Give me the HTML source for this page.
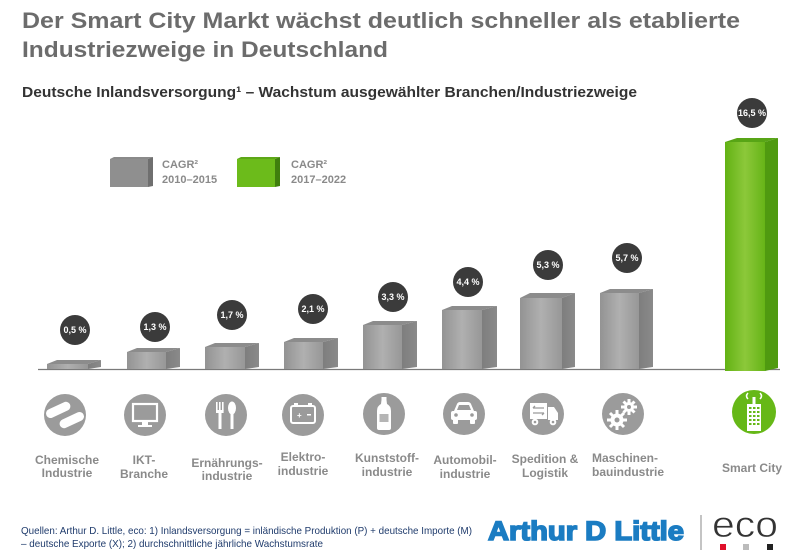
<!DOCTYPE html>
<html>
<head>
<meta charset="utf-8">
<style>
html,body{margin:0;padding:0;background:#fff;}
svg{display:block;}
text{font-family:"Liberation Sans",Arial,sans-serif;}
</style>
</head>
<body>
<svg width="800" height="554" viewBox="0 0 800 554" xmlns="http://www.w3.org/2000/svg">
<defs>
<linearGradient id="gf" x1="0" y1="0" x2="1" y2="0">
<stop offset="0" stop-color="#939393"/>
<stop offset="0.5" stop-color="#b0b0b0"/>
<stop offset="1" stop-color="#979797"/>
</linearGradient>
<linearGradient id="gs" x1="0" y1="0" x2="1" y2="0">
<stop offset="0" stop-color="#7e7e7e"/>
<stop offset="1" stop-color="#8a8a8a"/>
</linearGradient>
<linearGradient id="grf" x1="0" y1="0" x2="1" y2="0">
<stop offset="0" stop-color="#62b214"/>
<stop offset="0.5" stop-color="#8cc83a"/>
<stop offset="1" stop-color="#66b417"/>
</linearGradient>
</defs>

<!-- Title -->
<text x="22" y="28" font-size="22" font-weight="bold" fill="#6c6c6c" textLength="718" lengthAdjust="spacingAndGlyphs">Der Smart City Markt wächst deutlich schneller als etablierte</text>
<text x="22" y="57" font-size="22" font-weight="bold" fill="#6c6c6c" textLength="366" lengthAdjust="spacingAndGlyphs">Industriezweige in Deutschland</text>
<text x="22" y="97" font-size="15" font-weight="bold" fill="#333" textLength="615" lengthAdjust="spacingAndGlyphs">Deutsche Inlandsversorgung¹ – Wachstum ausgewählter Branchen/Industriezweige</text>

<!-- Legend -->
<polygon points="110,159 114,157 153,157 148,159" fill="#8a8a8a"/>
<rect x="110" y="159" width="38" height="28" fill="#8f8f8f"/>
<polygon points="148,159 153,157 153,186 148,187" fill="#6f6f6f"/>
<text x="162" y="168" font-size="11" font-weight="bold" fill="#8a8a8a">CAGR²</text>
<text x="162" y="183" font-size="11" font-weight="bold" fill="#8a8a8a">2010–2015</text>

<polygon points="237,159 241,157 280,157 275,159" fill="#5da717"/>
<rect x="237" y="159" width="38" height="28" fill="#6cbb1b"/>
<polygon points="275,159 280,157 280,186 275,187" fill="#3f7f0d"/>
<text x="291" y="168" font-size="11" font-weight="bold" fill="#8a8a8a">CAGR²</text>
<text x="291" y="183" font-size="11" font-weight="bold" fill="#8a8a8a">2017–2022</text>

<!-- Baseline -->
<line x1="38" y1="369.5" x2="780" y2="369.5" stroke="#7a7a7a" stroke-width="1.2"/>

<!-- Gray bars -->
<g>
<polygon points="47,364 57,360 101,360 88,364" fill="#8c8c8c"/>
<rect x="47" y="364" width="41" height="5" fill="url(#gf)"/>
<polygon points="88,364 101,360 101,367 88,369" fill="url(#gs)"/>

<polygon points="127,352 137,348 180,348 166,352" fill="#8c8c8c"/>
<rect x="127" y="352" width="39" height="17" fill="url(#gf)"/>
<polygon points="166,352 180,348 180,367 166,369" fill="url(#gs)"/>

<polygon points="205,347 215,343 259,343 245,347" fill="#8c8c8c"/>
<rect x="205" y="347" width="40" height="22" fill="url(#gf)"/>
<polygon points="245,347 259,343 259,367 245,369" fill="url(#gs)"/>

<polygon points="284,342 294,338 338,338 323,342" fill="#8c8c8c"/>
<rect x="284" y="342" width="39" height="27" fill="url(#gf)"/>
<polygon points="323,342 338,338 338,367 323,369" fill="url(#gs)"/>

<polygon points="363,325 373,321 417,321 402,325" fill="#8c8c8c"/>
<rect x="363" y="325" width="39" height="44" fill="url(#gf)"/>
<polygon points="402,325 417,321 417,367 402,369" fill="url(#gs)"/>

<polygon points="442,310 452,306 497,306 482,310" fill="#8c8c8c"/>
<rect x="442" y="310" width="40" height="59" fill="url(#gf)"/>
<polygon points="482,310 497,306 497,367 482,369" fill="url(#gs)"/>

<polygon points="520,298 530,293 575,293 562,298" fill="#8c8c8c"/>
<rect x="520" y="298" width="42" height="71" fill="url(#gf)"/>
<polygon points="562,298 575,293 575,367 562,369" fill="url(#gs)"/>

<polygon points="600,293 610,289 653,289 639,293" fill="#8c8c8c"/>
<rect x="600" y="293" width="39" height="76" fill="url(#gf)"/>
<polygon points="639,293 653,289 653,367 639,369" fill="url(#gs)"/>
</g>

<!-- Green bar -->
<polygon points="725,142 737,138 778,138 765,142" fill="#58a516"/>
<rect x="725" y="142" width="40" height="229" fill="url(#grf)"/>
<polygon points="765,142 778,138 778,368 765,371" fill="#4f9a10"/>

<!-- Value bubbles -->
<g font-size="9" font-weight="bold" fill="#fff" text-anchor="middle">
<circle cx="75" cy="330" r="15" fill="#3b3b3b"/><text x="75" y="333">0,5 %</text>
<circle cx="155" cy="327" r="15" fill="#3b3b3b"/><text x="155" y="330">1,3 %</text>
<circle cx="232" cy="315" r="15" fill="#3b3b3b"/><text x="232" y="318">1,7 %</text>
<circle cx="313" cy="309" r="15" fill="#3b3b3b"/><text x="313" y="312">2,1 %</text>
<circle cx="393" cy="297" r="15" fill="#3b3b3b"/><text x="393" y="300">3,3 %</text>
<circle cx="468" cy="282" r="15" fill="#3b3b3b"/><text x="468" y="285">4,4 %</text>
<circle cx="548" cy="265" r="15" fill="#3b3b3b"/><text x="548" y="268">5,3 %</text>
<circle cx="627" cy="258" r="15" fill="#3b3b3b"/><text x="627" y="261">5,7 %</text>
<circle cx="752" cy="113" r="15" fill="#3b3b3b"/><text x="752" y="116">16,5 %</text>
</g>

<!-- Icons -->
<g>
<circle cx="65" cy="415" r="21" fill="#9b9b9b"/>
<g transform="rotate(-25 65 415)" fill="#fff">
<rect x="48" y="403" width="26" height="9" rx="4.5"/>
<rect x="56" y="418" width="26" height="9" rx="4.5"/>
</g>

<circle cx="145" cy="415" r="21" fill="#9b9b9b"/>
<rect x="133" y="404" width="24" height="17" fill="none" stroke="#fff" stroke-width="2.2"/>
<rect x="142" y="421" width="6" height="4" fill="#fff"/>
<rect x="138" y="425" width="14" height="2" fill="#fff"/>

<circle cx="226" cy="415" r="21" fill="#9b9b9b"/>
<g fill="#fff">
<rect x="216" y="402" width="1.6" height="9"/><rect x="219" y="402" width="1.6" height="9"/><rect x="222" y="402" width="1.6" height="9"/>
<rect x="216" y="410" width="7.6" height="3"/>
<rect x="218.5" y="412" width="3" height="17"/>
<ellipse cx="232" cy="408" rx="4" ry="6.5"/>
<rect x="230.5" y="413" width="3" height="16"/>
</g>

<circle cx="303" cy="415" r="21" fill="#9b9b9b"/>
<rect x="291" y="406" width="24" height="17" rx="2" fill="none" stroke="#fff" stroke-width="2"/>
<rect x="294" y="403" width="4" height="3" fill="#fff"/><rect x="308" y="403" width="4" height="3" fill="#fff"/>
<text x="297" y="418" font-size="8" font-weight="bold" fill="#fff">+</text>
<rect x="307" y="414" width="4" height="1.5" fill="#fff"/>

<circle cx="384" cy="414" r="21" fill="#9b9b9b"/>
<g fill="#fff">
<rect x="381.5" y="397" width="5" height="3"/>
<path d="M381.5,400 L386.5,400 L387,404 Q391,406 391,411 L391,428 Q391,430 389,430 L379,430 Q377,430 377,428 L377,411 Q377,406 381,404 Z"/>
</g>
<rect x="379.5" y="414" width="9" height="8" fill="#b5b5b5"/>

<circle cx="464" cy="414" r="21" fill="#9b9b9b"/>
<g fill="#fff">
<path d="M454,411 L457,404 Q458,402 460,402 L468,402 Q470,402 471,404 L474,411 Z"/>
<rect x="451" y="411" width="26" height="9" rx="2"/>
<rect x="453" y="419" width="5" height="5" rx="1"/>
<rect x="470" y="419" width="5" height="5" rx="1"/>
</g>
<path d="M457,410 L459,405 L469,405 L471,410 Z" fill="#9b9b9b"/>
<circle cx="456" cy="415" r="1.8" fill="#9b9b9b"/><circle cx="472" cy="415" r="1.8" fill="#9b9b9b"/>

<circle cx="543" cy="414" r="21" fill="#9b9b9b"/>
<g fill="#fff">
<rect x="530" y="403" width="17" height="16"/>
<path d="M548,407 L554,407 L558,413 L558,420 L548,420 Z"/>
<circle cx="535" cy="422" r="3.3"/><circle cx="553" cy="422" r="3.3"/>
</g>
<path d="M533,408 L544,408 M533,408 L535,406 M544,413 L533,413 M544,413 L542,415" stroke="#9b9b9b" stroke-width="1.3" fill="none"/>
<circle cx="535" cy="422" r="1.3" fill="#9b9b9b"/><circle cx="553" cy="422" r="1.3" fill="#9b9b9b"/>

<circle cx="623" cy="414" r="21" fill="#9b9b9b"/>
<g fill="#fff">
<circle cx="617" cy="420" r="6.5"/>
<circle cx="629" cy="407" r="5"/>
<g stroke="#fff" stroke-width="3">
<line x1="617" y1="410" x2="617" y2="430"/><line x1="607" y1="420" x2="627" y2="420"/>
<line x1="610" y1="413" x2="624" y2="427"/><line x1="610" y1="427" x2="624" y2="413"/>
<line x1="629" y1="399" x2="629" y2="415"/><line x1="621" y1="407" x2="637" y2="407"/>
<line x1="623.5" y1="401.5" x2="634.5" y2="412.5"/><line x1="623.5" y1="412.5" x2="634.5" y2="401.5"/>
</g>
</g>
<circle cx="617" cy="420" r="2.5" fill="#9b9b9b"/><circle cx="629" cy="407" r="2" fill="#9b9b9b"/>

<circle cx="754" cy="412" r="22" fill="#66b817"/>
<g fill="#fff">
<rect x="747" y="404" width="14" height="27"/>
<rect x="752.5" y="397" width="3" height="7"/>
</g>
<g fill="#66b817">
<rect x="749" y="407" width="2.5" height="2"/><rect x="753" y="407" width="2.5" height="2"/><rect x="757" y="407" width="2.5" height="2"/>
<rect x="749" y="411" width="2.5" height="2"/><rect x="753" y="411" width="2.5" height="2"/><rect x="757" y="411" width="2.5" height="2"/>
<rect x="749" y="415" width="2.5" height="2"/><rect x="753" y="415" width="2.5" height="2"/><rect x="757" y="415" width="2.5" height="2"/>
<rect x="749" y="419" width="2.5" height="2"/><rect x="753" y="419" width="2.5" height="2"/><rect x="757" y="419" width="2.5" height="2"/>
<rect x="749" y="423" width="2.5" height="2"/><rect x="753" y="423" width="2.5" height="2"/><rect x="757" y="423" width="2.5" height="2"/>
</g>
<path d="M748,399 Q745,396 748,393 M760,399 Q763,396 760,393" stroke="#fff" stroke-width="1.5" fill="none"/>
</g>

<!-- Category labels -->
<g font-size="12" font-weight="bold" fill="#8a8a8a" text-anchor="middle">
<text x="67" y="464">Chemische</text><text x="67" y="477">Industrie</text>
<text x="144" y="464">IKT-</text><text x="144" y="478">Branche</text>
<text x="227" y="467">Ernährungs-</text><text x="227" y="480">industrie</text>
<text x="303" y="461">Elektro-</text><text x="303" y="475">industrie</text>
<text x="387" y="462">Kunststoff-</text><text x="387" y="476">industrie</text>
<text x="465" y="464">Automobil-</text><text x="465" y="478">industrie</text>
<text x="545" y="463">Spedition &amp;</text><text x="545" y="477">Logistik</text>
<text x="625" y="462">Maschinen-</text><text x="628" y="476">bauindustrie</text>
<text x="752" y="472">Smart City</text>
</g>

<!-- Footer -->
<text x="21" y="534" font-size="10.5" fill="#1f3b6c" textLength="451" lengthAdjust="spacingAndGlyphs">Quellen: Arthur D. Little, eco: 1) Inlandsversorgung = inländische Produktion (P) + deutsche Importe (M)</text>
<text x="21" y="547" font-size="10.5" fill="#1f3b6c" textLength="302" lengthAdjust="spacingAndGlyphs">– deutsche Exporte (X); 2) durchschnittliche jährliche Wachstumsrate</text>

<!-- Logos -->
<text x="488" y="540" font-size="27" font-weight="bold" fill="#1b7cc2" stroke="#1b7cc2" stroke-width="1.6" textLength="196" lengthAdjust="spacingAndGlyphs">Arthur D Little</text>
<line x1="701" y1="515" x2="701" y2="550" stroke="#888" stroke-width="1"/>
<text x="712" y="537" font-size="37" fill="#333" stroke="#fff" stroke-width="0.7" textLength="66" lengthAdjust="spacingAndGlyphs">eco</text>
<rect x="720" y="544" width="6" height="6" fill="#e0102a"/>
<rect x="743" y="544" width="6" height="6" fill="#bbbbbb"/>
<rect x="767" y="544" width="6" height="6" fill="#222"/>
</svg>
</body>
</html>
